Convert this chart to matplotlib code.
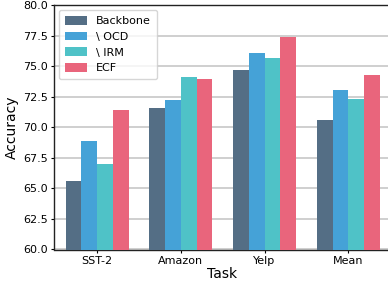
import numpy as np
import matplotlib
matplotlib.use("Agg")
import matplotlib.pyplot as plt

# Data
tasks = ["SST-2", "Amazon", "Yelp", "Mean"]
methods = ["Backbone", "\\ OCD", "\\ IRM", "ECF"]
backbone = [65.6, 71.6, 74.7, 70.6]
ocd = [68.9, 72.2, 76.1, 73.05]
irm = [67.0, 74.1, 75.7, 72.3]
ecf = [71.45, 73.95, 77.4, 74.3]
colors = ["#546e85", "#45a2d7", "#4fc2c7", "#e9657c"]

series = [backbone, ocd, irm, ecf]

fig = plt.figure(figsize=(3.88, 2.83), dpi=100)
ax = fig.add_axes([54 / 388, 1 - 249.5 / 283, 337 / 388, 244.5 / 283])

x = np.arange(len(tasks))
w = 0.1875
for i, (vals, lab) in enumerate(zip(series, methods)):
    ax.bar(x + (i - 1.5) * w, vals, w, color=colors[i], label=lab, zorder=3)

ax.set_ylim(60, 80)
ax.set_xlim(-0.515, 3.51)
ax.set_yticks(np.arange(60, 80.1, 2.5))
ax.set_yticklabels(["%.1f" % v for v in np.arange(60, 80.1, 2.5)])
ax.set_xticks(x)
ax.set_xticklabels(tasks)
ax.tick_params(labelsize=8, length=2.5, width=0.8, pad=2)
ax.yaxis.grid(True, color="#cccccc", linewidth=1.3, zorder=0)
ax.set_axisbelow(True)
for s in ax.spines.values():
    s.set_color("#222222")
    s.set_linewidth(1.0)
ax.spines["right"].set_visible(False)

ax.set_xlabel("Task", fontsize=10, labelpad=1)
ax.set_ylabel("Accuracy", fontsize=10, labelpad=3)

leg = ax.legend(loc="upper left", fontsize=8, frameon=True, fancybox=True,
                borderpad=0.55, handlelength=2.0, handleheight=0.8,
                labelspacing=0.5, handletextpad=0.8, borderaxespad=0.45)
leg.get_frame().set_edgecolor("#cccccc")

fig.savefig("out.png", dpi=100)
